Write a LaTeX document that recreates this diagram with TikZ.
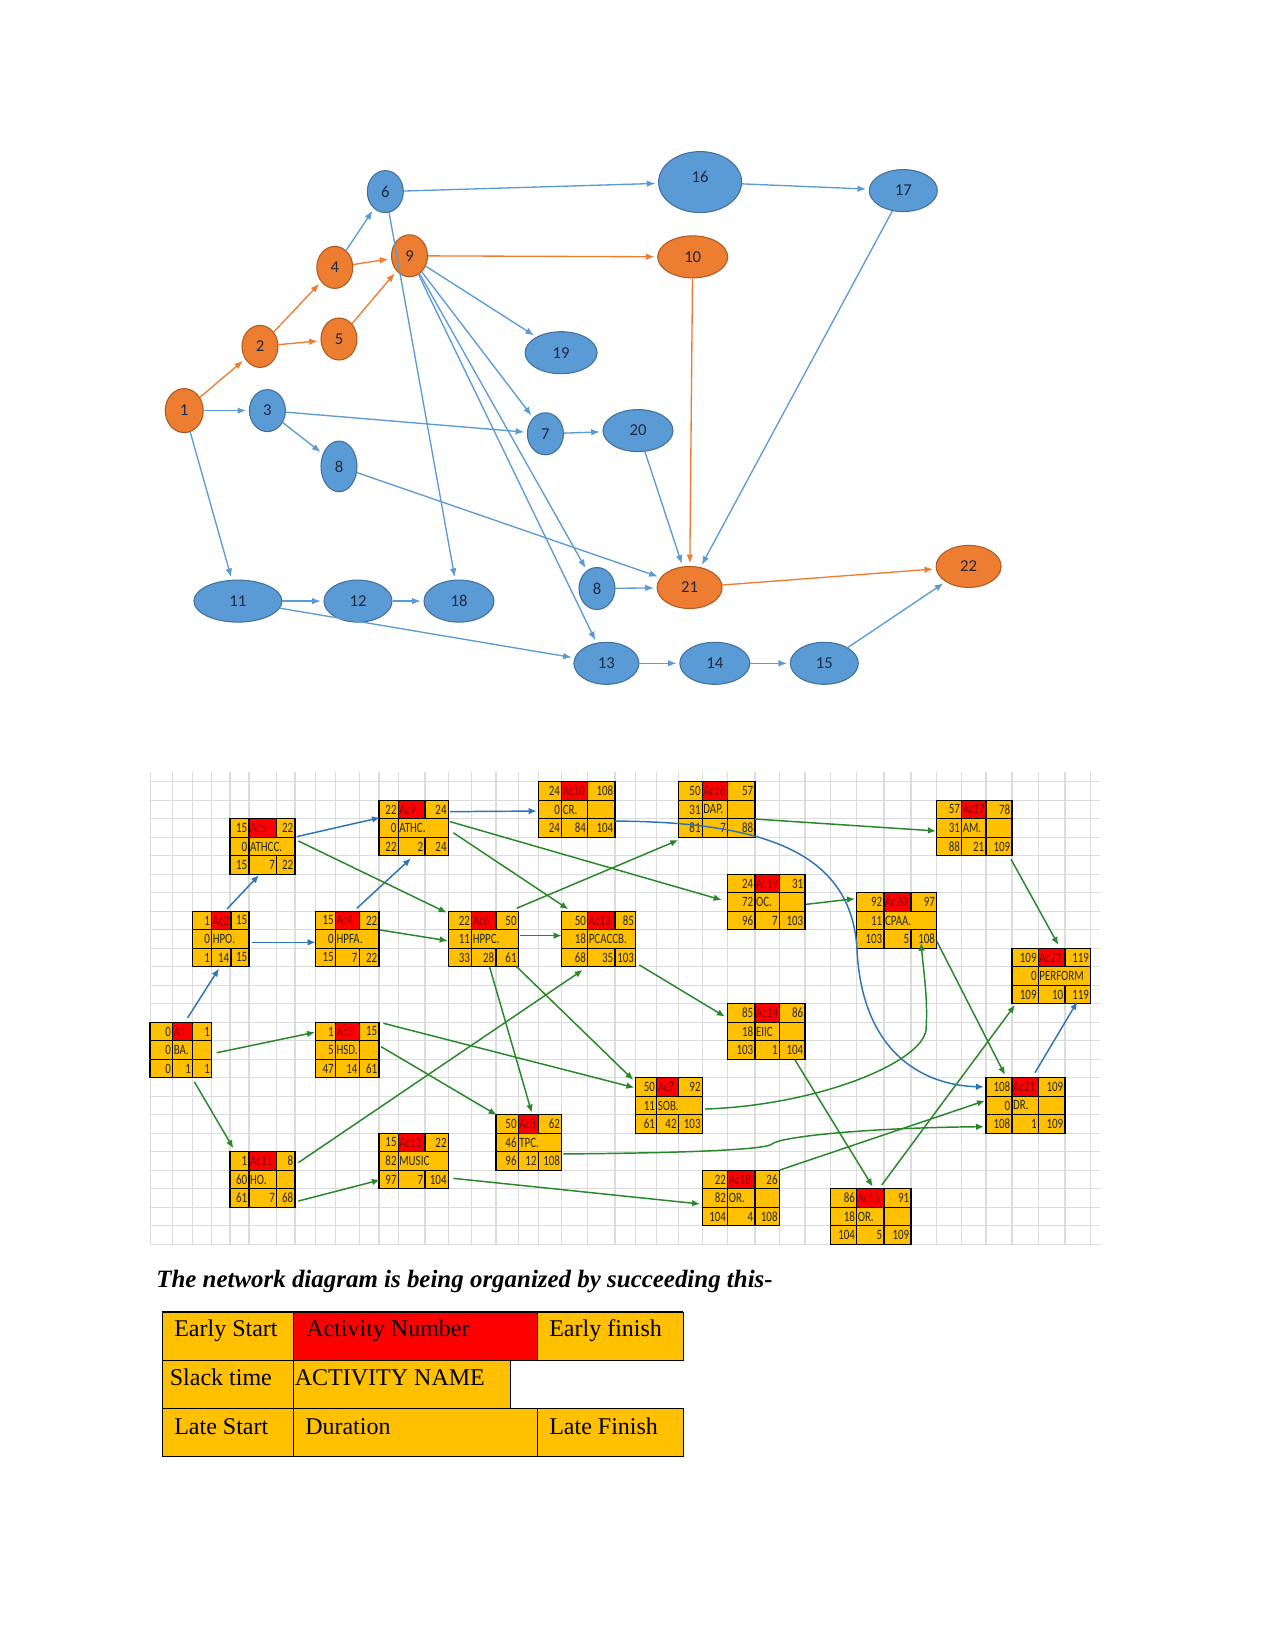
\documentclass[tikz,border=0pt]{standalone}
\usepackage{fontspec}
\usepackage{graphicx}
\setmainfont{Liberation Serif}
\newfontfamily\calib{Carlito}
\usetikzlibrary{shapes.geometric,arrows.meta,calc}

\definecolor{nblue}{HTML}{5B9BD5}
\definecolor{nblueline}{HTML}{41719C}
\definecolor{norange}{HTML}{ED7D31}
\definecolor{norangeline}{HTML}{AE5A21}
\definecolor{ntext}{HTML}{1F2A44}
\definecolor{cellor}{HTML}{FFC000}
\definecolor{cellred}{HTML}{FF0000}
\definecolor{acttext}{HTML}{8B0000}
\definecolor{gridc}{HTML}{DCDCDC}
\definecolor{garr}{RGB}{40,135,40}
\definecolor{barr}{HTML}{2E75B6}

\newcommand\celltext[1]{\scalebox{1}[1.3]{\calib\fontsize{8.2}{9}\selectfont #1}}
\newcommand\boxgeom[6]{\def\bxN{#1}\def\bxA{#2}\def\bxB{#3}\def\bxC{#4}\def\bxD{#5}\def\byA{#6}}
\newcommand\boxfill[9]{%
 \pgfmathsetmacro\byB{\byA+18.5}%
 \pgfmathsetmacro\byC{\byA+37}%
 \pgfmathsetmacro\byD{\byA+55.5}%
 \pgfmathsetmacro\rA{\byA+9.25}%
 \pgfmathsetmacro\rB{\byA+27.75}%
 \pgfmathsetmacro\rC{\byA+46.25}%
 \pgfmathsetmacro\bcx{(\bxA+\bxD)/2}%
 \pgfmathsetmacro\bw{(\bxD-\bxA)*0.75}%
 \fill[cellor] (\bxA,\byA) rectangle (\bxD,\byD);
 \fill[cellred] (\bxB,\byA) rectangle (\bxC,\byB);
 \draw[cellline] (\bxA,\byA) rectangle (\bxD,\byD);
 \draw[cellline] (\bxA,\byB) -- (\bxD,\byB) (\bxA,\byC) -- (\bxD,\byC)
   (\bxB,\byA) -- (\bxB,\byD) (\bxC,\byA) -- (\bxC,\byB) (\bxC,\byC) -- (\bxC,\byD);
 \ifnum#6=0 \draw[cellline] (\bxC,\byB) -- (\bxC,\byC);\fi
 \node[inner sep=0pt, minimum width=\bw pt, minimum height=41.625pt] (\bxN) at (\bcx,\rB) {};
 \node[numtxt] at ({\bxB-1.5},\rA) {\celltext{#1}};
 \node[lfttxt, text=acttext] at ({\bxB+0.8},\rA) {\celltext{#2}};
 \node[numtxt] at ({\bxD-1.5},\rA) {\celltext{#3}};
 \node[numtxt] at ({\bxB-1.5},\rB) {\celltext{#4}};
 \node[lfttxt] at ({\bxB+0.8},\rB) {\celltext{#5}};
 \node[numtxt] at ({\bxB-1.5},\rC) {\celltext{#7}};
 \node[numtxt] at ({\bxC-1.5},\rC) {\celltext{#8}};
 \node[numtxt] at ({\bxD-1.5},\rC) {\celltext{#9}};
}

\begin{document}
\begin{tikzpicture}[x=0.75pt,y=-0.75pt,
  bnode/.style={ellipse, draw=nblueline, fill=nblue, line width=0.8pt, inner sep=0pt,
     text=ntext, font=\calib\fontsize{12.5}{14}\selectfont},
  onode/.style={bnode, draw=norangeline, fill=norange},
  sm/.style={minimum width=27pt, minimum height=31.5pt},
  wd/.style={minimum width=#1, minimum height=31.5pt},
  bedge/.style={draw=nblue, line width=1pt, -{Latex[length=6.5pt,width=5pt]}, shorten >=2pt},
  oedge/.style={bedge, draw=norange},
  garrow/.style={draw=garr, line width=1.1pt, -{Latex[length=6pt,width=5pt]}},
  barrow/.style={garrow, draw=barr},
  cellline/.style={draw=black, line width=0.9pt},
  numtxt/.style={anchor=east, inner sep=0pt, text=black!85},
  lfttxt/.style={anchor=west, inner sep=0pt, text=black!85},
  legline/.style={draw=black, line width=0.75pt},
  legtxt/.style={anchor=base west, inner sep=0pt, font=\fontsize{18}{21}\selectfont}
]
\fill[white] (0,0) rectangle (1275,1651);
\useasboundingbox (0,0) rectangle (1275,1651);

% ---------- top graph ----------
\node[onode, minimum width=28.5pt, minimum height=33pt] (n1) at (184.2,410.6) {1};
\node[onode, sm] (n2) at (260,346.4) {2};
\node[bnode, sm] (n3) at (267.4,410.6) {3};
\node[onode, sm] (n4) at (334.8,267.4) {4};
\node[onode, sm] (n5) at (339,339) {5};
\node[bnode, sm] (n6) at (385.3,191.6) {6};
\node[onode, sm] (n9) at (409.5,255.8) {9};
\node[bnode, minimum width=62.25pt, minimum height=45.75pt, text depth=8pt] (n16) at (700.1,182.1) {16};
\node[bnode, wd=51pt] (n17) at (903.3,190.6) {17};
\node[onode, wd=52.5pt] (n10) at (692.7,256.9) {10};
\node[bnode, wd=54pt] (n19) at (561.1,352.7) {19};
\node[bnode, sm] (n7) at (545.4,433.8) {7};
\node[bnode, wd=52.5pt] (n20) at (638,430.6) {20};
\node[bnode, minimum width=27pt, minimum height=38pt] (n8a) at (339,466.4) {8};
\node[bnode, wd=66pt] (n11) at (237.9,601.1) {11};
\node[bnode, wd=51pt] (n12) at (358,601.1) {12};
\node[bnode, wd=52.5pt] (n18) at (459,601.1) {18};
\node[bnode, sm] (n8b) at (597,588.5) {8};
\node[onode, wd=48.75pt] (n21) at (689.6,587.5) {21};
\node[onode, wd=48.75pt] (n22) at (968.6,566.4) {22};
\node[bnode, wd=48.75pt] (n13) at (606.4,663.3) {13};
\node[bnode, wd=52.5pt] (n14) at (714.8,663.3) {14};
\node[bnode, wd=51pt] (n15) at (824.3,663.3) {15};

\foreach \a/\b in {n1/n2, n2/n4, n2/n5, n4/n9, n5/n9, n9/n10, n10/n21, n21/n22}
  \draw[oedge] (\a) -- (\b);
\foreach \a/\b in {n1/n3, n1/n11, n3/n7, n3/n8a, n4/n6, n6/n16, n6/n18, n16/n17, n17/n21,
  n9/n19, n9/n7, n9/n8b, n9/n13, n7/n20, n20/n21, n8a/n21, n8b/n21, n11/n12, n12/n18,
  n11/n13, n13/n14, n14/n15, n15/n22}
  \draw[bedge] (\a) -- (\b);

% ---------- grid ----------
\begin{scope}
\clip (150,772) rectangle (1100,1245);
\foreach \gx in {150,172.7,192.7,211.7,230,249,276.7,295,315.7,335.5,359.3,379,398.3,425,
  448.3,471.7,496,518.3,538.3,561.7,587.7,615,635.7,656.7,678.3,702.3,727.7,755,779.3,805,
  830.7,856.7,884,911,936.7,961.7,986,1012,1038.3,1065,1090.7}
  \draw[gridc, line width=0.8pt] (\gx,772) -- (\gx,1245);
\foreach \k in {0,...,25}
  \draw[gridc, line width=0.8pt] (150,781.7+18.5*\k) -- (1100,781.7+18.5*\k);
\end{scope}

% ---------- activity boxes ----------
\boxgeom{a1}{150}{172.7}{192.7}{211.7}{1022.2}\boxfill{0}{A1}{1}{0}{BA.}{0}{0}{1}{1}
\boxgeom{ac2}{192.3}{211.7}{231}{249}{911.2}\boxfill{1}{Ac2}{15}{0}{HPO.}{1}{1}{14}{15}
\boxgeom{ac3}{315.7}{335.5}{359.3}{379}{1022.2}\boxfill{1}{Ac3}{15}{5}{HSD.}{0}{47}{14}{61}
\boxgeom{ac4}{315.7}{335.5}{359.3}{379}{911.2}\boxfill{15}{Ac4}{22}{0}{HPFA.}{1}{15}{7}{22}
\boxgeom{ac5}{230}{249}{276.7}{295}{818.7}\boxfill{15}{Ac5}{22}{0}{ATHCC.}{1}{15}{7}{22}
\boxgeom{ac6}{448.3}{471.7}{496}{518.3}{911.2}\boxfill{22}{Ac6}{50}{11}{HPPC.}{1}{33}{28}{61}
\boxgeom{ac7}{635.7}{656.7}{678.3}{702.3}{1077.7}\boxfill{50}{Ac7}{92}{11}{SOB.}{1}{61}{42}{103}
\boxgeom{ac8}{496}{518.3}{538.3}{561.7}{1114.7}\boxfill{50}{Ac8}{62}{46}{TPC.}{1}{96}{12}{108}
\boxgeom{ac9}{379}{398.3}{425}{448.3}{800.2}\boxfill{22}{Ac9}{24}{0}{ATHC.}{1}{22}{2}{24}
\boxgeom{ac10}{538.3}{561.7}{587.7}{615}{781.7}\boxfill{24}{Ac10}{108}{0}{CR.}{0}{24}{84}{104}
\boxgeom{ac11}{230}{249}{276.7}{295}{1151.7}\boxfill{1}{Ac11}{8}{60}{HO.}{0}{61}{7}{68}
\boxgeom{ac12}{379}{398.3}{425}{448.3}{1133.2}\boxfill{15}{Ac12}{22}{82}{MUSIC}{1}{97}{7}{104}
\boxgeom{ac13}{561.7}{587.7}{615}{635.7}{911.2}\boxfill{50}{Ac13}{85}{18}{PCACCB.}{1}{68}{35}{103}
\boxgeom{ac14}{727.7}{755}{779.3}{805}{1003.7}\boxfill{85}{Ac14}{86}{18}{EIIC}{0}{103}{1}{104}
\boxgeom{ac15}{830.7}{856.7}{884}{911}{1188.7}\boxfill{86}{Ac15}{91}{18}{OR.}{0}{104}{5}{109}
\boxgeom{ac16}{678.3}{702.3}{727.7}{755}{781.7}\boxfill{50}{Ac16}{57}{31}{DAP.}{0}{81}{7}{88}
\boxgeom{ac17}{936.7}{961.7}{986}{1012}{800.2}\boxfill{57}{Ac17}{78}{31}{AM.}{0}{88}{21}{109}
\boxgeom{ac18}{702.3}{727.7}{755}{779.3}{1170.2}\boxfill{22}{Ac18}{26}{82}{OR.}{0}{104}{4}{108}
\boxgeom{ac19}{727.7}{755}{779.3}{805}{874.2}\boxfill{24}{Ac19}{31}{72}{OC.}{0}{96}{7}{103}
\boxgeom{ac20}{856.7}{884}{911}{936.7}{892.7}\boxfill{92}{Ac20}{97}{11}{CPAA.}{1}{103}{5}{108}
\boxgeom{ac21}{986}{1012}{1038.3}{1065}{1077.7}\boxfill{108}{Ac21}{109}{0}{DR.}{0}{108}{1}{109}
\boxgeom{ac22}{1012}{1038.3}{1065}{1090.7}{948.2}\boxfill{109}{Ac22}{119}{0}{PERFORM}{1}{109}{10}{119}

% ---------- blue connectors ----------
\draw[barrow] ([shift={(6.7,-32)}]a1.center) -- ([shift={(-1.7,29.6)}]ac2.center);
\draw[barrow] ([shift={(6.4,-30)}]ac2.center) -- ([shift={(-3.5,28.6)}]ac5.center);
\draw[barrow] ([shift={(31.7,3.4)}]ac2.center) -- ([shift={(-31.7,3.4)}]ac4.center);
\draw[barrow] ([shift={(9.4,-30.6)}]ac4.center) -- ([shift={(-2.7,30.4)}]ac9.center);
\draw[barrow] ([shift={(34.2,-9.8)}]ac5.center) -- ([shift={(-33.6,-10.3)}]ac9.center);
\draw[barrow] ([shift={(36.4,-16.3)}]ac9.center) -- ([shift={(-40,1.6)}]ac10.center);
\draw[barrow] ([shift={(38.4,11.6)}]ac10.center) .. controls (760,822) and (852,850) .. (857,950)
   .. controls (862,1050) and (920,1085) .. ([shift={(-41.5,-18.5)}]ac21.center);
\draw[barrow] ([shift={(9.5,-32.8)}]ac21.center) -- ([shift={(25.95,25.75)}]ac22.center);

% ---------- green connectors ----------
\draw[garrow] ([shift={(35.9,2.8)}]a1.center) -- ([shift={(-32.4,-17.7)}]ac3.center);
\draw[garrow] ([shift={(13.5,31.8)}]a1.center) -- ([shift={(-29.2,-31.2)}]ac11.center);
\draw[garrow] ([shift={(35.8,-5.5)}]ac5.center) -- ([shift={(-36.6,-26.3)}]ac6.center);
\draw[garrow] ([shift={(32.7,-9)}]ac4.center) -- ([shift={(-35.6,1.8)}]ac6.center);
\draw[garrow] ([shift={(36.4,-6.3)}]ac9.center) -- ([shift={(-44.7,-2)}]ac19.center);
\draw[garrow] ([shift={(39.7,4.8)}]ac9.center) -- ([shift={(-30.4,-29.7)}]ac13.center);
\draw[garrow] ([shift={(33.4,-30.7)}]ac6.center) -- ([shift={(-38.4,30.6)}]ac16.center);
\draw[garrow] ([shift={(36.7,-3.3)}]ac6.center) -- ([shift={(-37,-3.3)}]ac13.center);
\draw[garrow] ([shift={(6.2,27.6)}]ac6.center) -- ([shift={(2.9,-29.8)}]ac8.center);
\draw[garrow] ([shift={(33.4,27.8)}]ac6.center) -- ([shift={(-35.7,-25.5)}]ac7.center);
\draw[garrow] ([shift={(36,-26.7)}]ac3.center) -- ([shift={(-34.7,-17.8)}]ac7.center);
\draw[garrow] ([shift={(33.7,-3.3)}]ac3.center) -- ([shift={(-32.2,-27.5)}]ac8.center);
\draw[garrow] ([shift={(35.8,-16.8)}]ac11.center) -- ([shift={(-16,31)}]ac13.center);
\draw[garrow] ([shift={(35.8,21.6)}]ac11.center) -- ([shift={(-33.7,19)}]ac12.center);
\draw[garrow] ([shift={(39.7,17.4)}]ac12.center) -- ([shift={(-40.8,6)}]ac18.center);
\draw[garrow] ([shift={(40.6,26)}]ac13.center) -- ([shift={(-41.4,-14.8)}]ac14.center);
\draw[garrow] ([shift={(39.7,2.4)}]ac19.center) -- ([shift={(-41.7,-21.8)}]ac20.center);
\draw[garrow] ([shift={(38.4,9.6)}]ac16.center) -- ([shift={(-38.4,3)}]ac17.center);
\draw[garrow] ([shift={(36.7,31.4)}]ac17.center) -- ([shift={(7,-31)}]ac22.center);
\draw[garrow] ([shift={(40,20.6)}]ac20.center) -- ([shift={(-20.5,-30.5)}]ac21.center);
\draw[garrow] ([shift={(36,3.6)}]ac7.center) .. controls (820,1105) and (922,1062) .. (926,1030)
   .. controls (928,1000) and (924,975) .. ([shift={(24.3,22.3)}]ac20.center);
\draw[garrow] ([shift={(34.5,11.5)}]ac8.center) .. controls (680,1153) and (765,1150) .. (772,1144)
   .. controls (780,1137) and (860,1128) .. ([shift={(-41.5,21.2)}]ac21.center);
\draw[garrow] ([shift={(39.2,-28)}]ac18.center) -- ([shift={(-40.5,-4.75)}]ac21.center);
\draw[garrow] ([shift={(28.65,28.55)}]ac14.center) -- ([shift={(1.85,-29.75)}]ac15.center);
\draw[garrow] ([shift={(10.85,-31.45)}]ac15.center) -- ([shift={(-36.35,29.05)}]ac22.center);

% ---------- caption ----------
\node[anchor=base west, inner sep=0pt, font=\bfseries\itshape\fontsize{18.7}{22}\selectfont]
  (caption) at (156,1287) {The network diagram is being organized by succeeding this-};

% ---------- legend ----------
\fill[cellor] (162,1312) rectangle (293,1360);
\fill[cellred] (293,1312) rectangle (537,1360);
\fill[cellor] (537,1312) rectangle (683,1360);
\fill[cellor] (162,1360) rectangle (293,1408);
\fill[cellor] (293,1360) rectangle (510,1408);
\fill[cellor] (162,1408) rectangle (683,1456);
\draw[legline] (162,1312) rectangle (293,1360) (293,1312) rectangle (537,1360)
  (537,1312) rectangle (683,1360) (162,1360) rectangle (293,1408) (293,1360) rectangle (510,1408)
  (162,1408) rectangle (293,1456) (293,1408) rectangle (537,1456) (537,1408) rectangle (683,1456);
\draw[black, line width=1.6pt] (162,1312) -- (683,1312);
\node[legtxt] (l1) at (174,1336) {Early Start};
\node[legtxt] (l2) at (306,1336) {Activity Number};
\node[legtxt] (l3) at (549,1336) {Early finish};
\node[legtxt] (l4) at (169.6,1385) {Slack time};
\node[legtxt] (l5) at (294.6,1385) {ACTIVITY NAME};
\node[legtxt] (l6) at (174,1434) {Late Start};
\node[legtxt] (l7) at (305,1434) {Duration};
\node[legtxt] (l8) at (549,1434) {Late Finish};
\end{tikzpicture}
\end{document}
